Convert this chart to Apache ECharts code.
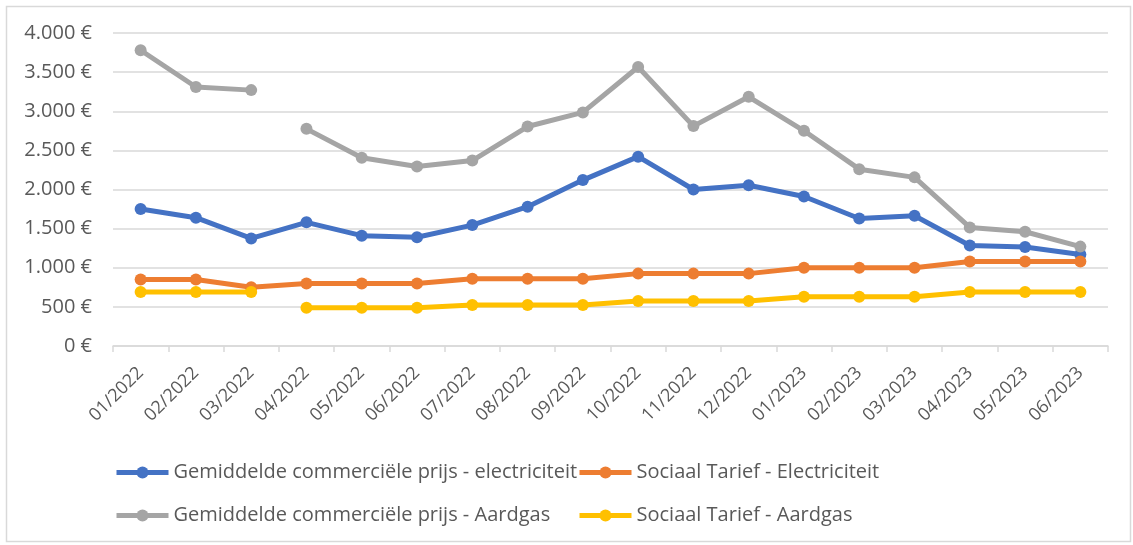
<!DOCTYPE html>
<html>
<head>
<meta charset="utf-8">
<script src="https://cdn.jsdelivr.net/npm/echarts@6/dist/echarts.min.js"></script>
<style>
  html, body { margin: 0; padding: 0; background: #fff; }
  #chart { width: 1133px; height: 545px; }
</style>
</head>
<body>
<div id="chart"></div>
<script>
// categories (maanden)
const months = ["01/2022", "02/2022", "03/2022", "04/2022", "05/2022", "06/2022",
  "07/2022", "08/2022", "09/2022", "10/2022", "11/2022", "12/2022",
  "01/2023", "02/2023", "03/2023", "04/2023", "05/2023", "06/2023"];

const elecCommercial = [1750, 1640, 1375, 1580, 1410, 1390, 1545, 1780, 2120, 2420,
  2000, 2055, 1910, 1630, 1665, 1285, 1265, 1170];
const elecSociaal = [850, 850, 750, 800, 800, 800, 860, 860, 860, 925,
  925, 925, 1000, 1000, 1000, 1080, 1080, 1080];
const gasCommercial = [3780, 3310, 3270, 2775, 2405, 2295, 2370, 2805, 2985, 3565,
  2810, 3185, 2750, 2260, 2155, 1515, 1460, 1270];
const gasSociaal = [690, 690, 690, 490, 490, 490, 525, 525, 525, 575,
  575, 575, 630, 630, 630, 690, 690, 690];

// de gas-lijnen zijn onderbroken tussen 03/2022 en 04/2022
const gapAfter = 2;

const names = [
  "Gemiddelde commerciële prijs - electriciteit",
  "Sociaal Tarief - Electriciteit",
  "Gemiddelde commerciële prijs - Aardgas",
  "Sociaal Tarief - Aardgas"
];
const colors = ["#4472C4", "#ED7D31", "#A5A5A5", "#FFC000"];

const textColor = "#595959";
const font = "Open Sans";

function euro(v) {
  return String(v).replace(/\B(?=(\d{3})+(?!\d))/g, ".") + " €";
}

function lineSerie(name, color, data) {
  return {
    name: name,
    type: "line",
    data: data,
    symbol: "circle",
    symbolSize: 12,
    connectNulls: false,
    lineStyle: { color: color, width: 5 },
    itemStyle: { color: color },
    emphasis: { disabled: true }
  };
}

function before(arr) { return arr.map((v, i) => (i <= gapAfter ? v : null)); }
function after(arr) { return arr.map((v, i) => (i > gapAfter ? v : null)); }

const myChart = echarts.init(document.getElementById("chart"));

const legendBase = {
  orient: "vertical",
  top: 462,
  padding: 0,
  itemWidth: 52,
  itemHeight: 15,
  itemGap: 22,
  lineStyle: { width: 5 },
  textStyle: { color: textColor, fontSize: 20, fontFamily: font, lineHeight: 21 }
};

const option = {
  animation: false,
  textStyle: { fontFamily: font },
  graphic: [{
    type: "rect",
    silent: true,
    shape: { x: 6.5, y: 6.5, width: 1124, height: 535 },
    style: { fill: "none", stroke: "#d9d9d9", lineWidth: 1.5 }
  }],
  grid: { left: 113, right: 25, top: 33, bottom: 199 },
  legend: [
    Object.assign({}, legendBase, { left: 114, data: [names[0], names[2]] }),
    Object.assign({}, legendBase, { left: 577, data: [names[1], names[3]] })
  ],
  xAxis: {
    type: "category",
    data: months,
    boundaryGap: true,
    axisLine: { lineStyle: { color: "#d9d9d9", width: 1.5 } },
    axisTick: { show: true, length: 6, lineStyle: { color: "#d9d9d9", width: 1.5 } },
    axisLabel: {
      rotate: 45,
      interval: 0,
      margin: 24,
      color: textColor,
      fontSize: 18,
      fontFamily: font
    }
  },
  yAxis: {
    type: "value",
    min: 0,
    max: 4000,
    interval: 500,
    axisLine: { show: false },
    axisTick: { show: false },
    splitLine: { lineStyle: { color: "#d9d9d9", width: 1.5 } },
    axisLabel: {
      formatter: euro,
      margin: 21,
      color: textColor,
      fontSize: 20,
      fontFamily: font
    }
  },
  series: [
    lineSerie(names[0], colors[0], elecCommercial),
    lineSerie(names[1], colors[1], elecSociaal),
    lineSerie(names[2], colors[2], before(gasCommercial)),
    lineSerie(names[2], colors[2], after(gasCommercial)),
    lineSerie(names[3], colors[3], before(gasSociaal)),
    lineSerie(names[3], colors[3], after(gasSociaal))
  ]
};

myChart.setOption(option);
</script>
</body>
</html>
